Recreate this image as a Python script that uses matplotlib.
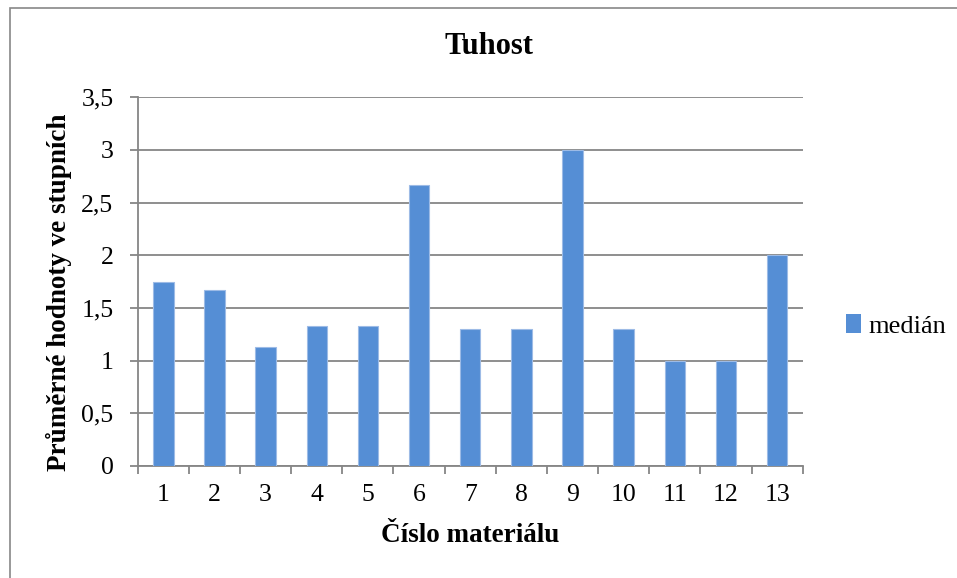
#!/usr/bin/env python3

import matplotlib
matplotlib.use("Agg")
import matplotlib.pyplot as plt
from matplotlib.patches import Rectangle, Patch
import numpy as np

# median stiffness per material
materials = [str(i) for i in range(1, 14)]
median_vals = [1.75, 1.667, 1.125, 1.333, 1.333, 2.667, 1.3, 1.3, 3.0, 1.3, 1.0, 1.0, 2.0]
y_ticks = [0, 0.5, 1, 1.5, 2, 2.5, 3, 3.5]
y_tick_labels = ["0", "0,5", "1", "1,5", "2", "2,5", "3", "3,5"]

BAR_COLOR = "#558ED5"
GRID_COLOR = "#868686"
W, H = 957, 578

plt.rcParams["font.family"] = ["Liberation Serif", "DejaVu Serif"]

fig = plt.figure(figsize=(W / 100, H / 100), dpi=100)
fig.set_facecolor("white")

# axes placed in pixel terms
left, right, top, bottom = 137.7, 802.7, 97.3, 466.0
ax = fig.add_axes([left / W, 1 - bottom / H, (right - left) / W, (bottom - top) / H])

x = np.arange(len(materials))
ax.bar(x, median_vals, width=0.4, color=BAR_COLOR, edgecolor="#9DBBE6",
       linewidth=0.8, zorder=3)

ax.set_xlim(-0.5, len(materials) - 0.5)
ax.set_ylim(0, 3.5)

# category boundaries carry the tick marks, labels sit at the centres
ax.set_xticks(np.arange(-0.5, len(materials), 1.0))
ax.set_xticklabels([])
ax.set_xticks(x, minor=True)
ax.set_xticklabels(materials, minor=True, fontsize=18.5)
ax.tick_params(axis="x", which="major", direction="out", length=5.5,
               width=1.3, color=GRID_COLOR)
ax.tick_params(axis="x", which="minor", length=0, pad=13)

ax.set_yticks(y_ticks)
ax.set_yticklabels(y_tick_labels, fontsize=18.5)
ax.tick_params(axis="y", direction="out", length=5.5, width=1.3,
               color=GRID_COLOR, pad=12)

ax.grid(axis="y", color=GRID_COLOR, linewidth=1.3, zorder=0)
for side in ["top", "right"]:
    ax.spines[side].set_visible(False)
for side in ["left", "bottom"]:
    ax.spines[side].set_color(GRID_COLOR)
    ax.spines[side].set_linewidth(1.3)

fig.text(489 / W, 1 - 46 / H, "Tuhost", fontsize=22, fontweight="bold",
         ha="center", va="center")
fig.text(470 / W, 1 - 535 / H, "Číslo materiálu", fontsize=19.5,
         fontweight="bold", ha="center", va="center")
fig.text(59 / W, 1 - 292 / H, "Průměrné hodnoty ve stupních", fontsize=19.5,
         fontweight="bold", ha="center", va="center", rotation=90)

handles = [Patch(facecolor=BAR_COLOR, edgecolor="none", label="medián")]
fig.legend(handles=handles, loc="center left", bbox_to_anchor=(846 / W, 1 - 326 / H),
           frameon=False, fontsize=19, handlelength=0.55, handleheight=0.75,
           handletextpad=0.3, borderpad=0, borderaxespad=0)

# chart frame
fig.patches.append(Rectangle((9.5 / W, -0.05), 1.2, 1 - 7.5 / H + 0.05,
                             transform=fig.transFigure, fill=False,
                             edgecolor="#878787", linewidth=1.2))

fig.savefig("out.png", dpi=100, facecolor="white")
